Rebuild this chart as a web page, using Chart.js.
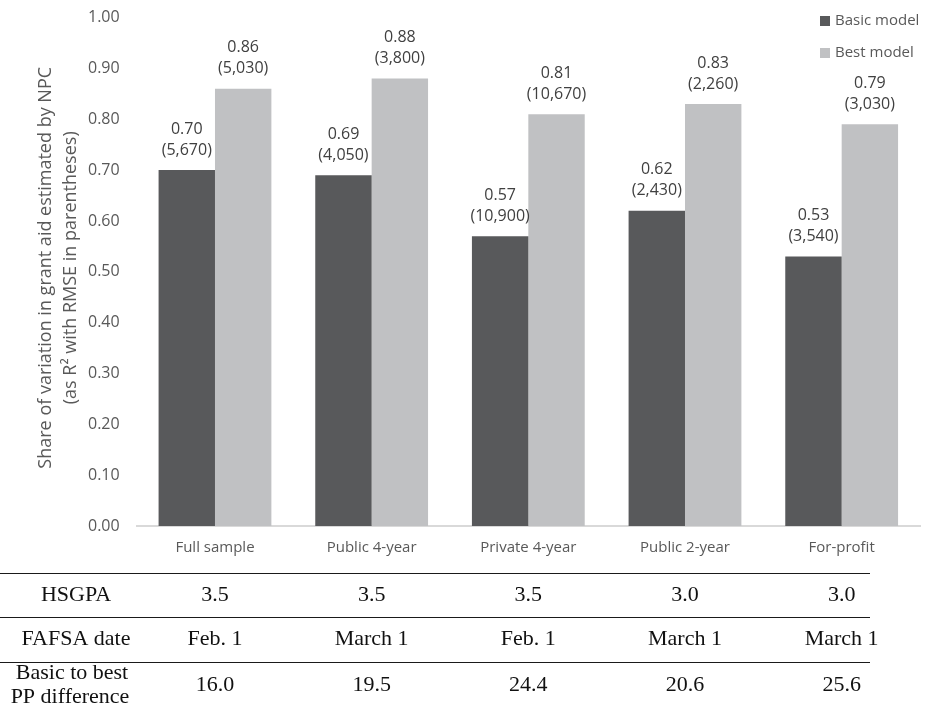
<!DOCTYPE html>
<html>
<head>
<meta charset="utf-8">
<script src="https://cdn.jsdelivr.net/npm/chart.js@4"></script>
<style>
  body { margin: 0; background: #fff; overflow: hidden; }
  #wrap { position: relative; width: 927px; height: 718px; top: -9px; }
</style>
</head>
<body>
<div id="wrap"><canvas id="myChart"></canvas></div>
<script>
const categories = ["Full sample", "Public 4-year", "Private 4-year", "Public 2-year", "For-profit"];
const basicR2 = [0.70, 0.69, 0.57, 0.62, 0.53];
const bestR2 = [0.86, 0.88, 0.81, 0.83, 0.79];
const basicRmse = ["5,670", "4,050", "10,900", "2,430", "3,540"];
const bestRmse = ["5,030", "3,800", "10,670", "2,260", "3,030"];
const hsgpa = ["3.5", "3.5", "3.5", "3.0", "3.0"];
const fafsaDate = ["Feb. 1", "March 1", "Feb. 1", "March 1", "March 1"];
const ppDiff = ["16.0", "19.5", "24.4", "20.6", "25.6"];

const darkGray = "#58595b";
const lightGray = "#c0c1c3";
const textGray = "#595959";
const shift = 9; // canvas sits 9px above the page top

// labels above bars: value on first line, RMSE in parentheses below
const barLabels = {
  id: "barLabels",
  afterDatasetsDraw(chart) {
    const ctx = chart.ctx;
    const rmse = [basicRmse, bestRmse];
    ctx.save();
    ctx.font = "16px 'Open Sans'";
    ctx.fillStyle = "#404040";
    ctx.textAlign = "center";
    ctx.textBaseline = "middle";
    chart.data.datasets.forEach((ds, i) => {
      chart.getDatasetMeta(i).data.forEach((bar, j) => {
        ctx.fillText(ds.data[j].toFixed(2), bar.x, bar.y - 41);
        ctx.fillText("(" + rmse[i][j] + ")", bar.x, bar.y - 20);
      });
    });
    ctx.restore();
  },
};

// rotated y title, two lines
const yTitle = {
  id: "yTitle",
  afterDraw(chart) {
    const ctx = chart.ctx;
    const a = chart.chartArea;
    const cy = (a.top + a.bottom) / 2 - 4;
    ctx.save();
    ctx.font = "18px 'Open Sans'";
    ctx.fillStyle = textGray;
    ctx.textAlign = "center";
    ctx.textBaseline = "middle";
    ctx.translate(46, cy);
    ctx.rotate(-Math.PI / 2);
    ctx.fillText("Share of variation in grant aid estimated by NPC", 0, 0);
    ctx.fillText("(as R\u00b2 with RMSE in parentheses)", 0, 25);
    ctx.restore();
  },
};

// vertical legend in top right corner
const cornerLegend = {
  id: "cornerLegend",
  afterDraw(chart) {
    const ctx = chart.ctx;
    const items = [["Basic model", darkGray], ["Best model", lightGray]];
    ctx.save();
    ctx.font = "15px 'Open Sans'";
    ctx.textBaseline = "middle";
    items.forEach((it, i) => {
      const y = shift + 21 + i * 32;
      ctx.fillStyle = it[1];
      ctx.fillRect(820, y - 5, 10, 10);
      ctx.fillStyle = textGray;
      ctx.fillText(it[0], 835, y);
    });
    ctx.restore();
  },
};

// table under the chart, columns follow the x scale
const bottomTable = {
  id: "bottomTable",
  afterDraw(chart) {
    const ctx = chart.ctx;
    const x = chart.scales.x;
    const rows = [
      { label: ["HSGPA"], vals: hsgpa, top: 573, bottom: 617 },
      { label: ["FAFSA date"], vals: fafsaDate, top: 617, bottom: 662 },
      { label: ["Basic to best", "PP difference"], vals: ppDiff, top: 662, bottom: 709 },
    ];
    ctx.save();
    ctx.translate(0, shift);
    ctx.strokeStyle = "#1a1a1a";
    ctx.lineWidth = 1;
    [573, 617, 662].forEach((y) => {
      ctx.beginPath();
      ctx.moveTo(0, y + 0.5);
      ctx.lineTo(870, y + 0.5);
      ctx.stroke();
    });
    ctx.font = "22px 'Liberation Serif'";
    ctx.fillStyle = "#111";
    ctx.textAlign = "center";
    ctx.textBaseline = "middle";
    rows.forEach((r) => {
      const mid = (r.top + r.bottom) / 2;
      if (r.label.length === 1) {
        ctx.fillText(r.label[0], 76, mid);
      } else {
        ctx.fillText(r.label[0], 72, mid - 12);
        ctx.fillText(r.label[1], 70, mid + 12);
      }
      r.vals.forEach((v, j) => {
        ctx.fillText(v, x.getPixelForValue(j), mid);
      });
    });
    ctx.restore();
  },
};

const config = {
  type: "bar",
  data: {
    labels: categories,
    datasets: [
      {
        label: "Basic model",
        data: basicR2,
        backgroundColor: darkGray,
        categoryPercentage: 0.72,
        barPercentage: 1.0,
      },
      {
        label: "Best model",
        data: bestR2,
        backgroundColor: lightGray,
        categoryPercentage: 0.72,
        barPercentage: 1.0,
      },
    ],
  },
  options: {
    responsive: true,
    maintainAspectRatio: false,
    animation: false,
    layout: {
      padding: { top: 0, right: 7, bottom: 139, left: 71 },
    },
    plugins: {
      legend: { display: false },
      tooltip: { enabled: false },
    },
    scales: {
      x: {
        grid: { display: false, drawTicks: false },
        border: { color: "#d9d9d9", width: 2 },
        ticks: {
          color: textGray,
          font: { family: "Open Sans", size: 15 },
          padding: 13,
        },
      },
      y: {
        min: 0,
        max: 1,
        grid: { display: false, drawTicks: false },
        border: { display: false },
        ticks: {
          stepSize: 0.1,
          color: textGray,
          font: { family: "Open Sans", size: 16 },
          padding: 17,
          callback: (v) => v.toFixed(2),
        },
      },
    },
  },
  plugins: [barLabels, yTitle, cornerLegend, bottomTable],
};

document.addEventListener("DOMContentLoaded", () => {
  const ctx = document.getElementById("myChart").getContext("2d");
  new Chart(ctx, config);
});
</script>
</body>
</html>
